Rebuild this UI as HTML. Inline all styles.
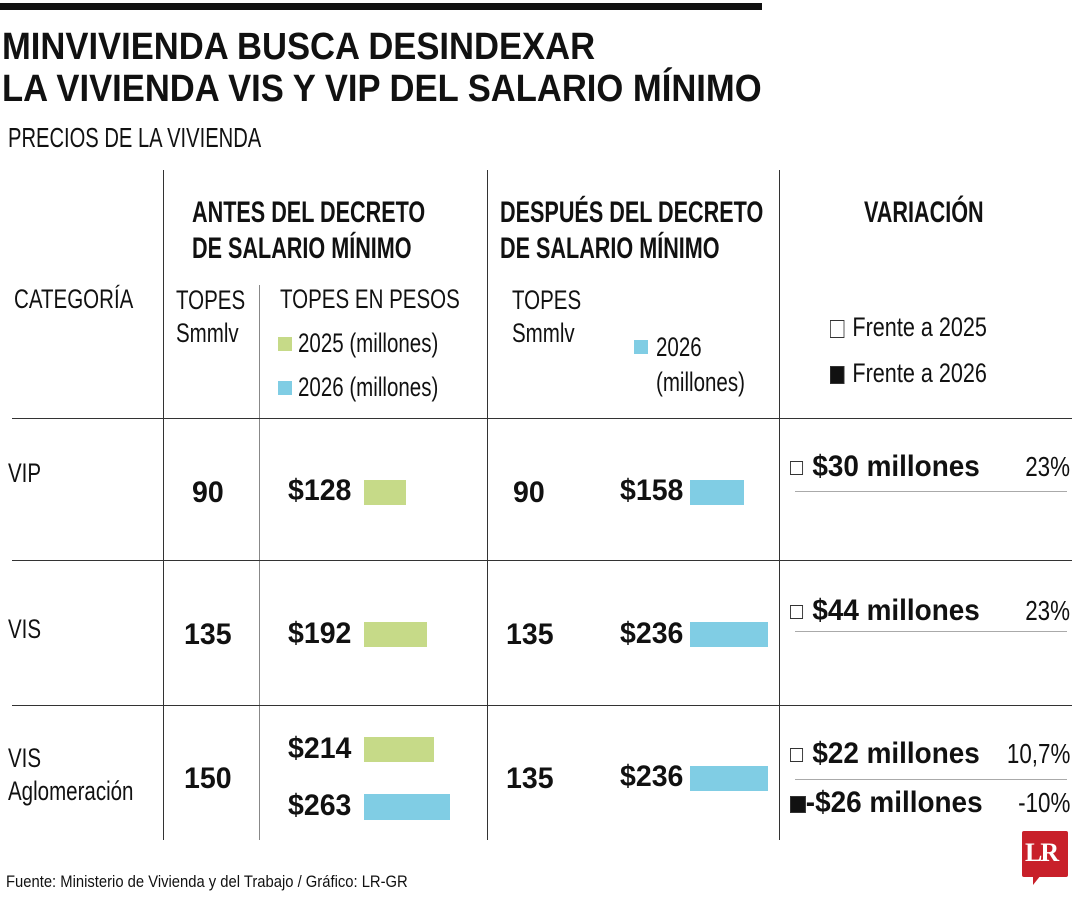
<!DOCTYPE html>
<html><head><meta charset="utf-8"><style>
body{margin:0;width:1080px;height:900px;background:#fff;position:relative;overflow:hidden;font-family:"Liberation Sans",sans-serif;color:#111}
.a{position:absolute;white-space:nowrap;transform-origin:left top}
.b{font-weight:bold}
.l{position:absolute;background:#333}
.g{position:absolute;background:#c6da88}
.c{position:absolute;background:#80cde4}
.t{font-size:27px;transform:scaleX(.76)}
.p{font-size:28px;transform:scaleX(.8);transform-origin:right top;right:10px}
.h{font-size:30px;font-weight:bold;line-height:36px;transform:scaleX(.72)}
.n{font-size:30px;font-weight:bold;transform:scaleX(.95)}
.m{font-size:30px;font-weight:bold;transform:scaleX(.93)}
.sq{display:inline-block;width:14px;height:14px;border:1.5px solid #333;vertical-align:middle;margin-right:10px;box-sizing:border-box}
</style></head><body>
<div class="l" style="left:0;top:3px;width:762px;height:7px;background:#111"></div>
<div class="a b" style="left:2px;top:26px;font-size:38px;line-height:42px;transform:scaleX(.91)">MINVIVIENDA BUSCA DESINDEXAR<br>LA VIVIENDA VIS Y VIP DEL SALARIO MÍNIMO</div>
<div class="a" style="left:8px;top:122px;font-size:28px;transform:scaleX(.72)">PRECIOS DE LA VIVIENDA</div>

<div class="l" style="left:163px;top:170px;width:1px;height:670px"></div>
<div class="l" style="left:259px;top:285px;width:1px;height:555px;background:#888"></div>
<div class="l" style="left:487px;top:170px;width:1px;height:670px"></div>
<div class="l" style="left:779px;top:170px;width:1px;height:670px"></div>
<div class="l" style="left:12px;top:418px;width:1060px;height:1px"></div>
<div class="l" style="left:12px;top:560px;width:1060px;height:1px"></div>
<div class="l" style="left:12px;top:705px;width:1060px;height:1px"></div>

<div class="a h" style="left:192px;top:195px">ANTES DEL DECRETO<br>DE SALARIO MÍNIMO</div>
<div class="a h" style="left:500px;top:195px">DESPUÉS DEL DECRETO<br>DE SALARIO MÍNIMO</div>
<div class="a h" style="left:864px;top:195px">VARIACIÓN</div>

<div class="a t" style="left:14px;top:284px">CATEGORÍA</div>
<div class="a t" style="left:176px;top:284px;line-height:33px">TOPES<br>Smmlv</div>
<div class="a t" style="left:280px;top:284px">TOPES EN PESOS</div>
<div class="g" style="left:278px;top:337px;width:14px;height:14px"></div>
<div class="a t" style="left:298px;top:328px">2025 (millones)</div>
<div class="c" style="left:278px;top:381px;width:14px;height:14px"></div>
<div class="a t" style="left:298px;top:372px">2026 (millones)</div>
<div class="a t" style="left:512px;top:284px;line-height:33px">TOPES<br>Smmlv</div>
<div class="c" style="left:634px;top:340px;width:14px;height:14px"></div>
<div class="a t" style="left:656px;top:330px;line-height:35px">2026<br>(millones)</div>
<div class="a t" style="left:830px;top:312px;transform:scaleX(.8)"><span class="sq" style="width:18px;height:18px"></span>Frente a 2025</div>
<div class="a t" style="left:830px;top:358px;transform:scaleX(.8)"><span class="sq" style="width:18px;height:18px;background:#111"></span>Frente a 2026</div>

<div class="a t" style="left:8px;top:458px">VIP</div>
<div class="a n" style="left:192px;top:476px">90</div>
<div class="a n" style="left:288px;top:474px">$128</div>
<div class="g" style="left:364px;top:480px;width:42px;height:25px"></div>
<div class="a n" style="left:513px;top:476px">90</div>
<div class="a n" style="left:620px;top:474px">$158</div>
<div class="c" style="left:690px;top:480px;width:54px;height:25px"></div>
<div class="a m" style="left:790px;top:450px"><span class="sq"></span>$30 millones</div>
<div class="a p" style="top:451px">23%</div>
<div class="l" style="left:795px;top:491px;width:272px;height:1px;background:#aaa"></div>

<div class="a t" style="left:8px;top:614px">VIS</div>
<div class="a n" style="left:184px;top:618px">135</div>
<div class="a n" style="left:288px;top:617px">$192</div>
<div class="g" style="left:364px;top:622px;width:63px;height:25px"></div>
<div class="a n" style="left:506px;top:618px">135</div>
<div class="a n" style="left:620px;top:617px">$236</div>
<div class="c" style="left:690px;top:622px;width:78px;height:25px"></div>
<div class="a m" style="left:790px;top:594px"><span class="sq"></span>$44 millones</div>
<div class="a p" style="top:595px">23%</div>
<div class="l" style="left:795px;top:631px;width:272px;height:1px;background:#aaa"></div>

<div class="a t" style="left:8px;top:742px;line-height:33px">VIS<br>Aglomeración</div>
<div class="a n" style="left:184px;top:762px">150</div>
<div class="a n" style="left:288px;top:732px">$214</div>
<div class="g" style="left:364px;top:737px;width:70px;height:25px"></div>
<div class="a n" style="left:288px;top:789px">$263</div>
<div class="c" style="left:364px;top:794px;width:86px;height:26px"></div>
<div class="a n" style="left:506px;top:762px">135</div>
<div class="a n" style="left:620px;top:760px">$236</div>
<div class="c" style="left:690px;top:766px;width:78px;height:25px"></div>
<div class="a m" style="left:790px;top:737px"><span class="sq"></span>$22 millones</div>
<div class="a p" style="top:738px">10,7%</div>
<div class="l" style="left:795px;top:779px;width:272px;height:1px;background:#aaa"></div>
<div class="a m" style="left:790px;top:786px"><span class="sq" style="background:#111;margin-right:0;width:17px;height:17px"></span>-$26 millones</div>
<div class="a p" style="top:787px">-10%</div>

<div class="a" style="left:6px;top:872px;font-size:17px;transform:scaleX(.87)">Fuente: Ministerio de Vivienda y del Trabajo / Gráfico: LR-GR</div>
<div class="a" style="left:1022px;top:831px;width:46px;height:46px;background:#c8202a;border-radius:2px"></div>
<div class="a" style="left:1033px;top:875px;width:0;height:0;border-left:8px solid #c8202a;border-bottom:10px solid transparent"></div>
<div class="a b" style="left:1025px;top:838px;font-size:26px;color:#fff;font-family:'Liberation Serif',serif;letter-spacing:-2px">LR</div>
</body></html>
